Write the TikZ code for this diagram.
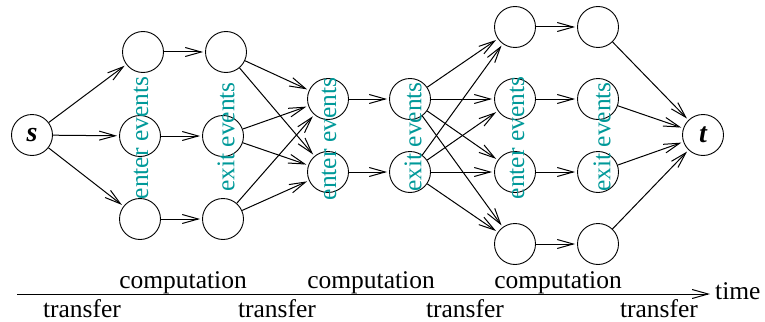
\documentclass[tikz,border=0pt]{standalone}
\usepackage{fontspec}
\setmainfont{Liberation Serif}
\usetikzlibrary{arrows.meta}
\definecolor{evteal}{RGB}{0,153,153}
\begin{document}
\begin{tikzpicture}[x=1pt,y=-1pt,
  vtx/.style={circle,draw,line width=0.9pt,minimum size=41pt,inner sep=0pt},
  edge/.style={line width=1pt,-{Straight Barb[length=16pt,width=9pt,line width=1pt]},shorten >=2pt},
  evlabel/.style={rotate=90,text=evteal,inner sep=0pt,font=\fontsize{25.5}{28}\selectfont},
  txt/.style={anchor=base,inner sep=0pt,font=\fontsize{25.5}{28}\selectfont},
  endtxt/.style={font=\fontsize{28}{30}\selectfont\bfseries\itshape}]
\useasboundingbox (0,0) rectangle (765,321);
% nodes
\node[vtx,endtxt] (s) at (32,135) {s};
\node[vtx] (a1) at (143,52) {};
\node[vtx] (a2) at (140,136) {};
\node[vtx] (a3) at (140,219) {};
\node[vtx] (b1) at (226,52) {};
\node[vtx] (b2) at (223,136) {};
\node[vtx] (b3) at (223,219) {};
\node[vtx] (c1) at (328,99) {};
\node[vtx] (c2) at (328,172) {};
\node[vtx] (d1) at (410,99) {};
\node[vtx] (d2) at (410,172) {};
\node[vtx] (e1) at (515,27) {};
\node[vtx] (e2) at (515,99) {};
\node[vtx] (e3) at (515,172) {};
\node[vtx] (e4) at (515,244) {};
\node[vtx] (f1) at (598,27) {};
\node[vtx] (f2) at (598,99) {};
\node[vtx] (f3) at (598,172) {};
\node[vtx] (f4) at (598,244) {};
\node[vtx,endtxt] (t) at (703,135) {t};
% edges
\foreach \x in {a1,a2,a3} \draw[edge] (s) -- (\x);
\draw[edge] (a1) -- (b1);
\draw[edge] (a2) -- (b2);
\draw[edge] (a3) -- (b3);
\foreach \x in {b1,b2,b3} {\draw[edge] (\x) -- (c1); \draw[edge] (\x) -- (c2);}
\draw[edge] (c1) -- (d1);
\draw[edge] (c2) -- (d2);
\foreach \x in {d1,d2} {\foreach \y in {e1,e2,e3,e4} \draw[edge] (\x) -- (\y);}
\draw[edge] (e1) -- (f1);
\draw[edge] (e2) -- (f2);
\draw[edge] (e3) -- (f3);
\draw[edge] (e4) -- (f4);
\foreach \x in {f1,f2,f3,f4} \draw[edge] (\x) -- (t);
% event labels
\node[evlabel] (l1) at (141,138) {enter events};
\node[evlabel] (l2) at (226,137) {exit events};
\node[evlabel] (l3) at (329,139) {enter events};
\node[evlabel] (l4) at (413,137) {exit events};
\node[evlabel] (l5) at (517,138) {enter events};
\node[evlabel] (l6) at (602,137) {exit events};
% time axis
\coordinate (ax0) at (17,294);
\coordinate (ax1) at (710,294);
\draw[line width=1pt,-{Straight Barb[length=16pt,width=9pt,line width=1pt]}] (ax0) -- (ax1);
\node[txt,anchor=base west] (time) at (715,299) {time};
\node[txt] (cp1) at (183,288) {computation};
\node[txt] (cp2) at (371,288) {computation};
\node[txt] (cp3) at (558,288) {computation};
\node[txt] (tr1) at (82,317) {transfer};
\node[txt] (tr2) at (277,317) {transfer};
\node[txt] (tr3) at (465,317) {transfer};
\node[txt] (tr4) at (659,317) {transfer};
\end{tikzpicture}
\end{document}
